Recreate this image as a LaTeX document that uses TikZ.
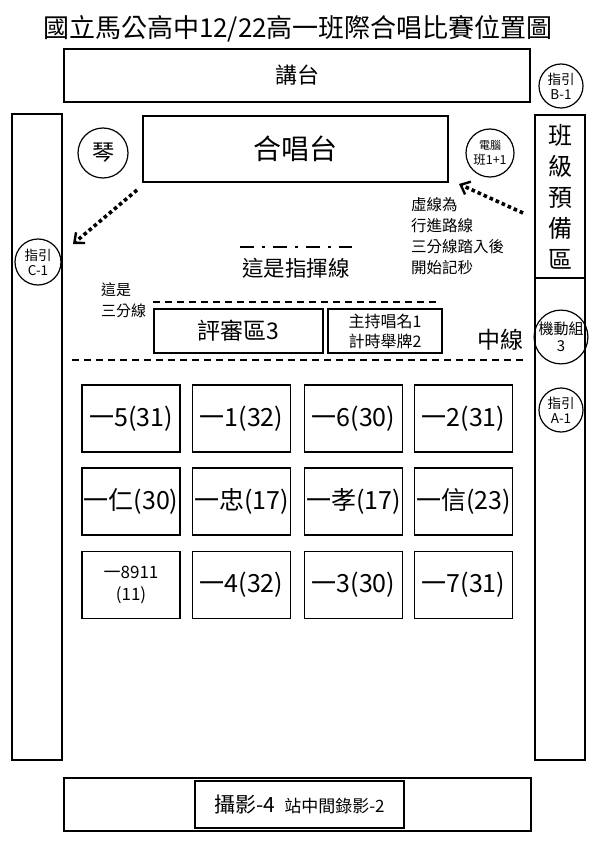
\documentclass[tikz,border=0pt]{standalone}
\usepackage{fontspec}
\setmainfont{Noto Sans CJK TC}
\usetikzlibrary{arrows.meta}

\begin{document}
\begin{tikzpicture}[x=1pt, y=-1pt,
  box/.style={draw, line width=1.5pt, inner sep=0pt, align=center},
  ring/.style={draw, circle, line width=1.2pt, inner sep=0pt, minimum size=#1,
               align=center, font=\fontsize{13.5}{15}\selectfont},
  cls/.style={box, minimum width=98pt, minimum height=67pt, font=\fontsize{25}{28}\selectfont},
  walk/.style={line width=3.6pt, dash pattern=on 3.6pt off 3pt,
               -{Straight Barb[length=8pt, width=14pt, line width=2.4pt]}},
  cut/.style={line width=1.6pt, dash pattern=on 7pt off 5pt},
  note/.style={align=left, inner sep=0pt, font=\fontsize{15.5}{21}\selectfont},
]
\useasboundingbox (0,0) rectangle (595,842);

\node (title) at (298,29) {\fontsize{26}{28}\selectfont 國立馬公高中12/22高一班際合唱比賽位置圖};

\node[box, minimum width=466pt, minimum height=53pt, font=\fontsize{22}{24}\selectfont] (podium) at (297,75.5) {講台};
\node[ring=44pt] (guideB) at (561,86) {指引\\B-1};

\node[box, minimum width=50pt, minimum height=646pt] (leftside) at (37,437) {};
\node[box, minimum width=50pt, minimum height=645pt] (rightside) at (560,437.5) {};
\coordinate (divL) at (535,278);
\coordinate (divR) at (585,278);
\draw[line width=1.5pt] (divL) -- (divR);
\node[align=center, font=\fontsize{24}{31}\selectfont] (prep) at (560,197) {班\\級\\預\\備\\區};

\node[box, minimum width=305pt, minimum height=66pt, font=\fontsize{28}{30}\selectfont] (choir) at (295.5,149) {合唱台};
\node[ring=50pt, font=\fontsize{22}{24}\selectfont] (piano) at (103,153) {琴};
\node[ring=48pt] (pc) at (490,153) {{\fontsize{11}{13}\selectfont 電腦}\\{\fontsize{12.5}{15}\selectfont 班1+1}};
\node[ring=46pt] (guideC) at (38,262) {指引\\C-1};

\coordinate (exitA) at (137,190);
\coordinate (exitB) at (73,244);
\coordinate (enterA) at (523,213);
\coordinate (enterB) at (459,184);
\draw[walk] (exitA) -- (exitB);
\draw[walk] (enterA) -- (enterB);

\coordinate (condA) at (240,247);
\coordinate (condB) at (352,247);
\draw[line width=2pt, dash pattern=on 13.5pt off 8.5pt on 2.5pt off 8.5pt] (condA) -- (condB);
\node[font=\fontsize{21.5}{24}\selectfont] (condlbl) at (296,268) {這是指揮線};

\node[note, anchor=north west] (rule) at (411,197) {虛線為\\行進路線\\三分線踏入後\\開始記秒};
\node[note, anchor=north west, font=\fontsize{15}{21}\selectfont] (thirdlbl) at (101,283) {這是\\三分線};

\coordinate (thirdA) at (153,302);
\coordinate (thirdB) at (440,302);
\draw[cut] (thirdA) -- (thirdB);

\node[box, line width=1.8pt, minimum width=169pt, minimum height=44pt, font=\fontsize{23}{25}\selectfont] (judge) at (238.5,331) {評審區3};
\node[box, line width=1.8pt, minimum width=114pt, minimum height=44pt, font=\fontsize{16}{20}\selectfont] (host) at (385,331) {主持唱名1\\計時舉牌2};
\node[font=\fontsize{23}{25}\selectfont] (midlbl) at (500,340) {中線};

\coordinate (midA) at (72,360);
\coordinate (midB) at (523,360);
\draw[cut] (midA) -- (midB);

\node[ring=50pt, font=\fontsize{15}{17}\selectfont] (mobile) at (561,337) {機動組\\3};
\node[ring=44pt] (guideA) at (561,410) {指引\\A-1};

\node[cls] (c5) at (131,418.5) {一5(31)};
\node[cls] (c1) at (241.5,418.5) {一1(32)};
\node[cls] (c6) at (353.5,418.5) {一6(30)};
\node[cls] (c2) at (463.5,418.5) {一2(31)};
\node[cls] (cren) at (131,501.5) {一仁(30)};
\node[cls] (czhong) at (241.5,501.5) {一忠(17)};
\node[cls] (cxiao) at (353.5,501.5) {一孝(17)};
\node[cls] (cxin) at (463.5,501.5) {一信(23)};
\node[cls, font=\fontsize{17}{22}\selectfont] (c8911) at (131,585) {一8911\\(11)};
\node[cls] (c4) at (241.5,585) {一4(32)};
\node[cls] (c3) at (353.5,585) {一3(30)};
\node[cls] (c7) at (463.5,585) {一7(31)};

\node[box, minimum width=467pt, minimum height=53pt] (rear) at (297.5,804.5) {};
\node[box, minimum width=209pt, minimum height=47pt] (camera) at (299.5,804.5)
  {{\fontsize{21}{24}\selectfont 攝影-4}\hspace{9pt}{\fontsize{17}{24}\selectfont 站中間錄影-2}};
\end{tikzpicture}
\end{document}
